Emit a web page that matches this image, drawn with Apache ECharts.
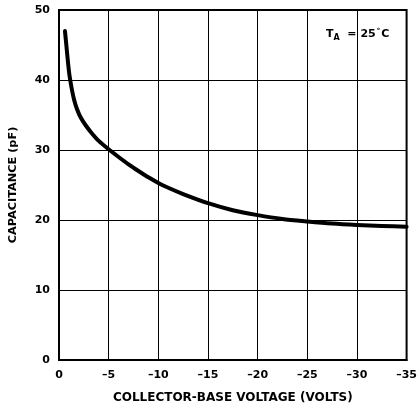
<!DOCTYPE html>
<html>
<head>
<meta charset="utf-8">
<script src="https://cdn.jsdelivr.net/npm/echarts@6/dist/echarts.min.js"></script>
<style>
html,body{margin:0;padding:0;background:#fff;}
#chart{width:420px;height:412px;}
</style>
</head>
<body>
<div id="chart"></div>
<script>
const voltage = [-0.6, -0.75, -0.9, -1.05, -1.25, -1.5, -1.8, -2.2, -2.7, -3.3, -4.0, -5.0, -6.0, -7.0, -8.0, -9.0, -10, -11, -12.5, -15, -17.5, -20, -22.5, -25, -27.5, -30, -32.5, -35];
const capacitance = [47.0, 44.8, 42.6, 40.7, 39.0, 37.3, 35.9, 34.6, 33.5, 32.4, 31.3, 30.1, 29.0, 27.95, 27.0, 26.1, 25.3, 24.6, 23.7, 22.4, 21.4, 20.7, 20.15, 19.8, 19.5, 19.3, 19.15, 19.05];
const xTicks = [0, -5, -10, -15, -20, -25, -30, -35];
const yTicks = [0, 10, 20, 30, 40, 50];
const xTitle = 'COLLECTOR-BASE VOLTAGE (VOLTS)';
const yTitle = 'CAPACITANCE (pF)';

const FONT = 'DejaVu Sans';
const chart = echarts.init(document.getElementById('chart'), null, {renderer: 'canvas'});
chart.setOption({
  animation: false,
  backgroundColor: '#fff',
  grid: {left: 58, right: 10, top: 10, bottom: 52, show: true, borderColor: '#000', borderWidth: 2},
  xAxis: {
    type: 'value', min: -35, max: 0, interval: 5, inverse: true,
    name: xTitle, nameLocation: 'middle', nameGap: 32,
    nameTextStyle: {fontFamily: FONT, fontWeight: 'bold', fontSize: 12, color: '#000'},
    axisLine: {show: true, lineStyle: {color: '#000', width: 2}},
    axisTick: {show: false},
    axisLabel: {margin: 10, fontFamily: FONT, fontWeight: 'bold', fontSize: 11, color: '#000',
      formatter: v => (xTicks.includes(v) ? String(v).replace('-', '\u2013') : '')},
    splitLine: {show: true, lineStyle: {color: '#000', width: 1}}
  },
  yAxis: {
    type: 'value', min: 0, max: 50, interval: 10,
    name: yTitle, nameLocation: 'middle', nameGap: 40,
    nameTextStyle: {fontFamily: FONT, fontWeight: 'bold', fontSize: 11.3, color: '#000'},
    axisLine: {show: true, lineStyle: {color: '#000', width: 2}},
    axisTick: {show: false},
    axisLabel: {margin: 9, fontFamily: FONT, fontWeight: 'bold', fontSize: 11, color: '#000',
      formatter: v => (yTicks.includes(v) ? String(v) : '')},
    splitLine: {show: true, lineStyle: {color: '#000', width: 1}}
  },
  series: [{
    type: 'line',
    data: voltage.map((v, i) => [v, capacitance[i]]),
    smooth: 0.25,
    showSymbol: false,
    lineStyle: {color: '#000', width: 4, cap: 'round', join: 'round'}
  }],
  graphic: [{
    type: 'text', left: 326, top: 28,
    style: {
      rich: {
        t: {fontFamily: FONT, fontWeight: 'bold', fontSize: 11, fill: '#000'},
        s: {fontFamily: FONT, fontWeight: 'bold', fontSize: 8, fill: '#000', padding: [7, 0, 0, 0]},
        d: {fontFamily: FONT, fontWeight: 'bold', fontSize: 7, fill: '#000', padding: [0, 1, 5, 1]}
      },
      text: '{t|T}{s|A}{t|  = 25}{d|°}{t|C}'
    }
  }]
});
</script>
</body>
</html>
